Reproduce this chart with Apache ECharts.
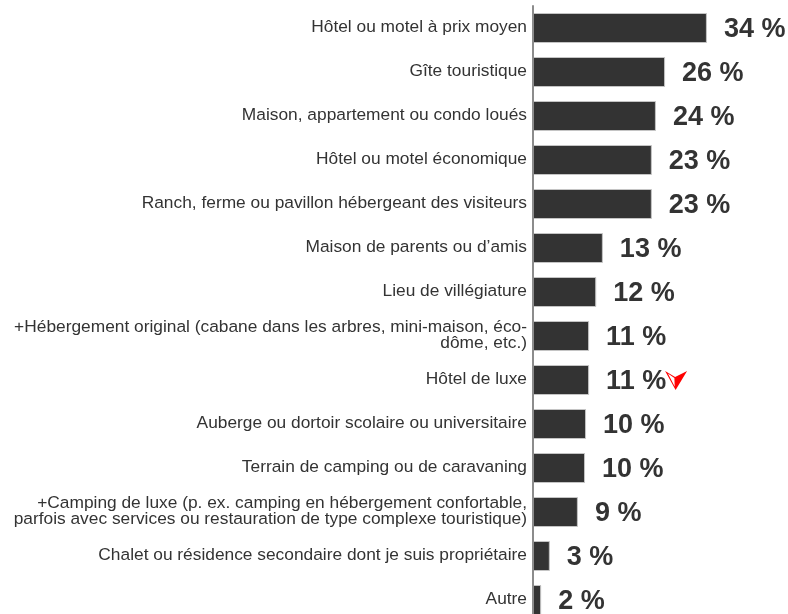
<!DOCTYPE html>
<html><head><meta charset="utf-8">
<style>html,body{margin:0;padding:0;background:#fff}#c{width:788px;height:614px}</style>
<script src="https://cdn.jsdelivr.net/npm/echarts@6/dist/echarts.min.js"></script></head>
<body><div id="c"></div>
<script>
const categories = [
 "Hôtel ou motel à prix moyen","Gîte touristique","Maison, appartement ou condo loués","Hôtel ou motel économique",
 "Ranch, ferme ou pavillon hébergeant des visiteurs","Maison de parents ou d’amis","Lieu de villégiature",
 "+Hébergement original (cabane dans les arbres, mini-maison, éco-\ndôme, etc.)","Hôtel de luxe",
 "Auberge ou dortoir scolaire ou universitaire","Terrain de camping ou de caravaning",
 "+Camping de luxe (p. ex. camping en hébergement confortable,\nparfois avec services ou restauration de type complexe touristique)",
 "Chalet ou résidence secondaire dont je suis propriétaire","Autre"];
const values = [34.1,25.9,24.1,23.3,23.3,13.7,12.4,11.0,11.0,10.4,10.2,8.8,3.3,1.6];
const valueLabels = ["34 %","26 %","24 %","23 %","23 %","13 %","12 %","11 %","11 %","10 %","10 %","9 %","3 %","2 %"];
const flagged = "Hôtel de luxe";
const chart = echarts.init(document.getElementById('c'),null,{renderer:'canvas'});
chart.setOption({
 animation:false,
 grid:[{left:533,top:6,width:255,height:616,outerBoundsMode:'none'},
       {left:533,top:5,width:255,height:616,outerBoundsMode:'none'}],
 xAxis:[{type:'value',min:0,max:50,show:false,gridIndex:0},{type:'value',min:0,max:50,show:false,gridIndex:1}],
 yAxis:[{type:'category',inverse:true,data:categories,z:5,gridIndex:0,
   axisLine:{show:true,lineStyle:{color:'#8c8c8c',width:2}},axisTick:{show:false},axisLabel:{show:false}},
  {type:'category',inverse:true,data:categories,gridIndex:1,
   axisLine:{show:false},axisTick:{show:false},
   axisLabel:{margin:6,color:'#333',fontFamily:'"Liberation Sans",Arial,sans-serif',fontSize:17.33,lineHeight:16,align:'right'}}],
 series:[{type:'bar',data:values,barWidth:30,xAxisIndex:0,yAxisIndex:0,
  itemStyle:{color:'#333333',borderColor:'#c4c4c4',borderWidth:1},
  label:{show:true,position:'right',distance:17,offset:[0,2],color:'#333',fontFamily:'"Liberation Sans",Arial,sans-serif',fontWeight:'bold',fontSize:27,
   formatter:p=>valueLabels[p.dataIndex]},
  markPoint:{silent:true,symbol:'path://M22 0 L10 6 L10.5 19 Z M0 0 L10 6 L10.5 19 Z M2.8 2.6 L9.6 15.5 L9.3 6.900 Z',symbolSize:[22,19],symbolOffset:[87,0.5],
   itemStyle:{color:'#ff0000'},label:{show:false},
   data:[{coord:[values[categories.indexOf(flagged)],flagged]}]}
 }]
});
</script></body></html>
